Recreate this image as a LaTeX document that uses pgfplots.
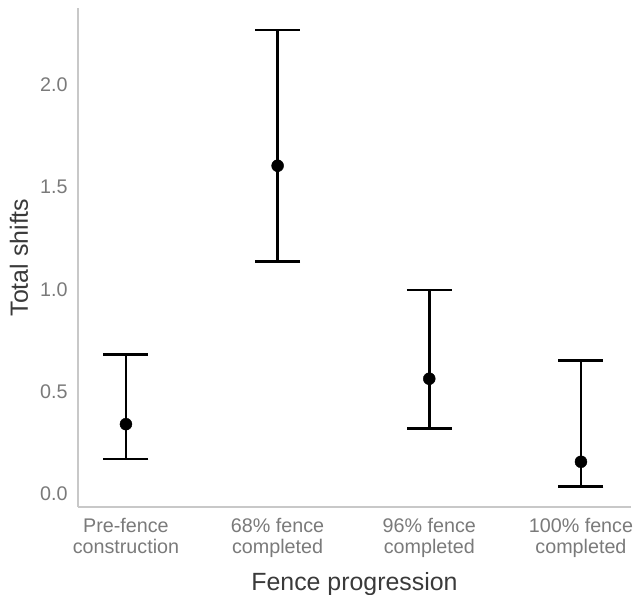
\documentclass[border=0pt]{standalone}
\usepackage{pgfplots}
\pgfplotsset{compat=1.18}
\usepackage{pgfplotstable}
\usepackage{fontspec}
\setmainfont{Liberation Sans}
\definecolor{axisgray}{HTML}{C8C8C8}
\definecolor{tickgray}{HTML}{7A7A7A}
\definecolor{labgray}{HTML}{3A3A3A}
\pgfplotstableread{
x y ep em
0 0.342 0.341 0.170
1 1.605 0.663 0.468
2 0.564 0.434 0.244
3 0.158 0.496 0.119
}\datatable
\begin{document}
\begin{tikzpicture}
\useasboundingbox (0,0) rectangle (639bp,595bp);
\begin{axis}[
  at={(78bp,88bp)}, anchor=south west,
  scale only axis, width=553bp, height=499bp,
  xmin=-0.316, xmax=3.33, ymin=-0.063, ymax=2.376,
  axis lines=left, axis line style={axisgray, line width=1.5bp, -},
  xtick=data, xticklabels={{Pre-fence\\construction},{68\% fence\\completed},{96\% fence\\completed},{100\% fence\\completed}},
  xticklabel style={align=center, font=\fontsize{19.8}{21}\selectfont, text=tickgray, yshift=-8bp},
  ytick={0,0.5,1,1.5,2},
  yticklabel style={font=\fontsize{19.8}{21}\selectfont, text=tickgray, xshift=-7bp},
  /pgf/number format/assume math mode=true,
  /pgf/number format/fixed, /pgf/number format/fixed zerofill, /pgf/number format/precision=1,
  major tick length=0pt,
  xtick style={draw=none}, ytick style={draw=none},
  xlabel={Fence progression}, ylabel={Total shifts},
  label style={font=\fontsize{25}{27}\selectfont, text=labgray},
  xlabel style={yshift=-8bp},
  ylabel style={yshift=5bp},
  clip=false,
]
\addplot[only marks, mark=*, mark size=6bp, black,
  error bars/.cd, y dir=both, y explicit,
  error bar style={line width=2.8bp, black},
  error mark options={rotate=90, mark size=22.5bp, line width=2.8bp, black}]
  table[x=x, y=y, y error plus=ep, y error minus=em] {\datatable};
\end{axis}
\end{tikzpicture}
\end{document}
